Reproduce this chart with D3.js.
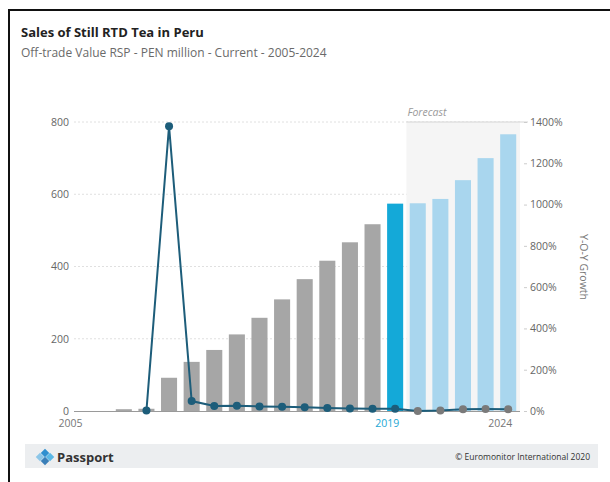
<!DOCTYPE html>
<html><head><meta charset="utf-8">
<script src="https://cdn.jsdelivr.net/npm/d3@7/dist/d3.min.js"></script>
<style>body{margin:0;background:#fff;font-family:"Open Sans",sans-serif;}svg{display:block}</style>
</head><body>
<script>
const years = [2005,2006,2007,2008,2009,2010,2011,2012,2013,2014,2015,2016,2017,2018,2019,2020,2021,2022,2023,2024];
const sales = [0,0,5,6.2,92,136,169,212,258,309,365,416,467,517,574,575,587,639,700,766];
const growthYears = [2008,2009,2010,2011,2012,2013,2014,2015,2016,2017,2018,2019,2020,2021,2022,2023,2024];
const growth = [2,1380,48,24,25,22,20,18,14,12,11,11,0,2,9,10,9];
const leftTicks = [0,200,400,600,800];
const rightTicks = [0,200,400,600,800,1000,1200,1400];
const xLabels = [2005,2019,2024];
const currentYear = 2019;
const forecastStart = 2020;

const W=610,H=482;
const svg=d3.select("body").append("svg").attr("width",W).attr("height",H);

// frame
svg.append("line").attr("x1",8).attr("x2",W).attr("y1",10).attr("y2",10).attr("stroke","#111").attr("stroke-width",2);
svg.append("line").attr("x1",9).attr("x2",9).attr("y1",9).attr("y2",H).attr("stroke","#111").attr("stroke-width",2);

svg.append("text").attr("x",21).attr("y",37).text("Sales of Still RTD Tea in Peru")
  .attr("font-size",13).attr("font-weight","bold").attr("fill","#222");
svg.append("text").attr("x",21).attr("y",57).text("Off-trade Value RSP - PEN million - Current - 2005-2024")
  .attr("font-size",12).attr("fill","#6a6a6a");

const x=d3.scaleBand().domain(years).range([67.3,519.5]).paddingInner(0.29).paddingOuter(0.145);
const yL=d3.scaleLinear().domain([0,800]).range([411,122]);
const yR=d3.scaleLinear().domain([0,1400]).range([411,122]);
const cx=d=>x(d)+x.bandwidth()/2;

// gridlines
svg.append("g").selectAll("line").data(leftTicks.filter(d=>d>0)).join("line")
  .attr("x1",74).attr("x2",520).attr("y1",d=>yL(d)).attr("y2",d=>yL(d))
  .attr("stroke","#e0e0e0").attr("stroke-width",1).attr("stroke-dasharray","2,2");

// forecast area
const fx0=(x(currentYear)+x.bandwidth()+x(forecastStart))/2;
svg.append("rect").attr("x",fx0).attr("y",yL(800)).attr("width",520-fx0).attr("height",yL(0)-yL(800)).attr("fill","#f5f5f5");
svg.append("line").attr("x1",fx0).attr("x2",528).attr("y1",yL(800)).attr("y2",yL(800)).attr("stroke","#d5d5d5");
svg.append("text").attr("x",fx0+1).attr("y",yL(800)-6).text("Forecast").attr("font-size",10.5)
  .attr("font-style","italic").attr("fill","#9a9a9a");

// bars
svg.append("g").selectAll("rect").data(years.map((y,i)=>({y,v:sales[i]}))).join("rect")
  .attr("x",d=>x(d.y)).attr("width",x.bandwidth())
  .attr("y",d=>yL(d.v)).attr("height",d=>yL(0)-yL(d.v))
  .attr("fill",d=>d.y<currentYear?"#a6a6a6":(d.y===currentYear?"#14a9d8":"#a9d6ee"));

// x axis line
svg.append("line").attr("x1",74).attr("x2",520).attr("y1",yL(0)+0.5).attr("y2",yL(0)+0.5).attr("stroke","#9a9a9a").attr("stroke-width",1.2);

// left axis
const gl=svg.append("g").attr("transform","translate(74,0)").call(d3.axisLeft(yL).tickValues(leftTicks).tickSize(0).tickPadding(5));
gl.select(".domain").remove();
gl.selectAll("text").attr("font-size",10.5).attr("fill","#666").attr("font-family","Open Sans");

// right axis
const gr=svg.append("g").attr("transform","translate(524,0)").call(d3.axisRight(yR).tickValues(rightTicks).tickFormat(d=>d+"%").tickSize(3).tickPadding(3));
gr.select(".domain").remove();
gr.selectAll("line").attr("stroke","#ccc");
gr.selectAll("text").attr("font-size",10.5).attr("fill","#666").attr("font-family","Open Sans");
svg.append("text").attr("transform","translate(580,267) rotate(90)").attr("text-anchor","middle")
  .text("Y-O-Y Growth").attr("font-size",10.5).attr("fill","#777");

// bottom axis labels
const gb=svg.append("g").attr("transform",`translate(0,${yL(0)})`).call(d3.axisBottom(x).tickValues(xLabels).tickSize(0).tickPadding(9));
gb.select(".domain").remove();
gb.selectAll("text").attr("font-size",10.5).attr("dx",-8).attr("font-family","Open Sans")
  .attr("fill",d=>d===currentYear?"#1ba7d4":"#777");

// growth line
const gdata=growthYears.map((y,i)=>({y,v:growth[i]}));
svg.append("path").datum(gdata).attr("fill","none").attr("stroke","#1d5d7a").attr("stroke-width",2)
  .attr("d",d3.line().x(d=>cx(d.y)).y(d=>yR(d.v)));
svg.append("g").selectAll("circle").data(gdata).join("circle")
  .attr("cx",d=>cx(d.y)).attr("cy",d=>yR(d.v)).attr("r",4)
  .attr("fill",d=>d.y>currentYear?"#7a7a7a":"#1d5d7a");

// footer
svg.append("rect").attr("x",25).attr("y",444).attr("width",573).attr("height",24).attr("fill","#eceef0");
const logo=svg.append("g").attr("transform","translate(45,457)");
[[0,-4,"#2f8fcf"],[5,0,"#5bb8e6"],[0,4,"#3a7fb8"],[-5,0,"#8cc6e8"]].forEach(([dx,dy,c])=>{
  logo.append("rect").attr("x",dx-3).attr("y",dy-3).attr("width",6).attr("height",6).attr("fill",c)
    .attr("transform",`rotate(45 ${dx} ${dy})`);
});
svg.append("text").attr("x",57).attr("y",462).text("Passport").attr("font-size",13).attr("font-weight","bold").attr("fill","#333");
svg.append("text").attr("x",590).attr("y",460).attr("text-anchor","end").text("© Euromonitor International 2020")
  .attr("font-size",8.5).attr("fill","#333");
</script>
</body></html>
